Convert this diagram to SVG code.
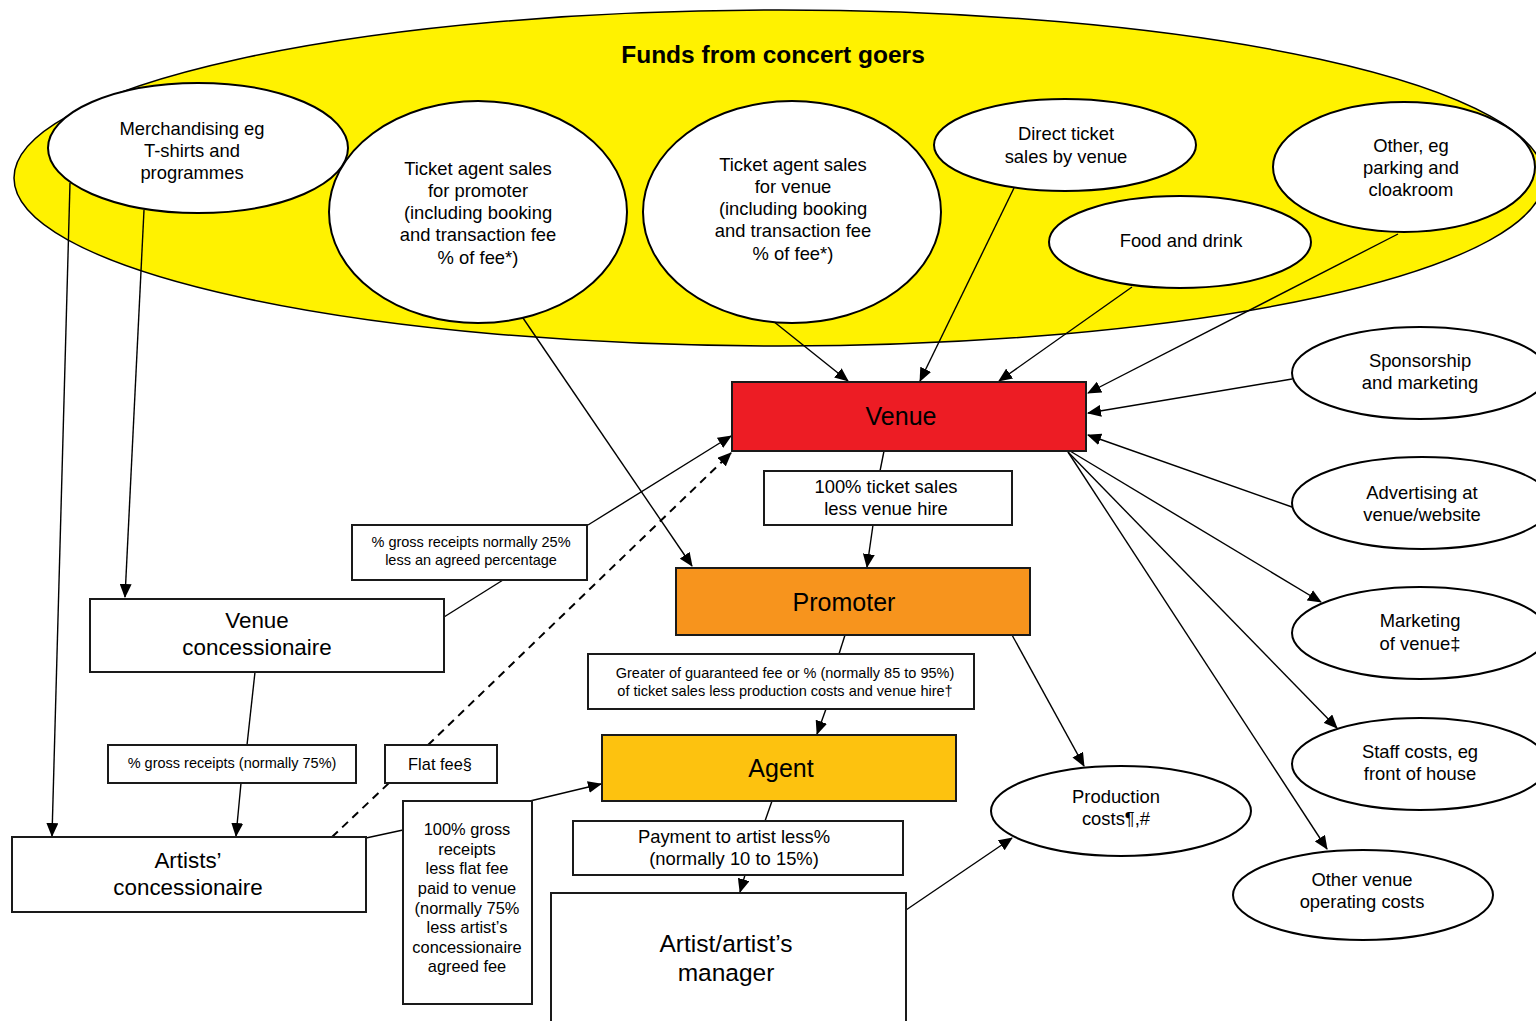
<svg xmlns="http://www.w3.org/2000/svg" width="1536" height="1021" viewBox="0 0 1536 1021">
<defs>
<marker id="ah" markerUnits="userSpaceOnUse" markerWidth="14" markerHeight="12" refX="13" refY="6" orient="auto">
<path d="M0,0 L14,6 L0,12 Z" fill="#000"/>
</marker>
<style>
text{font-family:"Liberation Sans",Arial,sans-serif;fill:#000;text-anchor:middle}
.el{fill:#fff;stroke:#000;stroke-width:2}
.bx{fill:#fff;stroke:#1a1a1a;stroke-width:2}
.c{stroke:#000;stroke-width:1.4;fill:none}
.a{marker-end:url(#ah)}
.d{stroke-dasharray:8,6;stroke-width:2}
.t17{font-size:18.4px}
.t13{font-size:14.5px}
.t15{font-size:16.4px}
.big{font-size:25px}
.mid{font-size:22.4px}
</style>
</defs>
<rect width="1536" height="1021" fill="#fff"/>

<g id="funds">
<ellipse cx="779" cy="178" rx="765" ry="168" fill="#FFF200" stroke="#000" stroke-width="1.5"/>
<text x="773" y="63" style="font-size:24.5px;font-weight:bold">Funds from concert goers</text>
</g>

<g id="connectors">
<line class="c a" x1="70" y1="183" x2="52" y2="836"/>
<line class="c a" x1="144" y1="210" x2="125" y2="597"/>
<line class="c a" x1="523" y1="318" x2="692" y2="566"/>
<line class="c a" x1="773" y1="321" x2="848" y2="381"/>
<line class="c a" x1="1014" y1="188" x2="920" y2="381"/>
<line class="c a" x1="1132" y1="287" x2="999" y2="381"/>
<line class="c a" x1="1398" y1="234" x2="1088" y2="393"/>
<line class="c a" x1="1292" y1="379" x2="1088" y2="413"/>
<line class="c a" x1="1292" y1="507" x2="1088" y2="435"/>
<line class="c a" x1="1070" y1="451" x2="1321" y2="602"/>
<line class="c a" x1="1068" y1="452" x2="1337" y2="728"/>
<line class="c a" x1="1068" y1="452" x2="1327" y2="849"/>
<line class="c a" x1="1012" y1="635" x2="1084" y2="766"/>
<line class="c a" x1="906" y1="910" x2="1012" y2="838"/>
<line class="c" x1="884" y1="451" x2="880" y2="471"/>
<line class="c a" x1="873" y1="525" x2="867" y2="567"/>
<line class="c" x1="845" y1="635" x2="839" y2="654"/>
<line class="c a" x1="826" y1="709" x2="817" y2="734"/>
<line class="c" x1="772" y1="801" x2="765" y2="821"/>
<line class="c a" x1="745" y1="875" x2="740" y2="892"/>
<line class="c" x1="444" y1="617" x2="503" y2="580"/>
<line class="c a" x1="588" y1="525" x2="731" y2="436"/>
<line class="c" x1="255" y1="672" x2="247" y2="745"/>
<line class="c a" x1="241" y1="783" x2="236" y2="836"/>
<line class="c d" x1="332" y1="837" x2="389" y2="783"/>
<line class="c a d" x1="428" y1="745" x2="731" y2="453"/>
<line class="c" x1="366" y1="838" x2="403" y2="830"/>
<line class="c a" x1="530" y1="801" x2="601" y2="784"/>
</g>

<g id="merch">
<ellipse class="el" cx="198" cy="148" rx="150" ry="65"/>
<text class="t17" x="192" y="135">Merchandising eg</text>
<text class="t17" x="192" y="157">T-shirts and</text>
<text class="t17" x="192" y="179">programmes</text>
</g>
<g id="ticket-promoter">
<ellipse class="el" cx="478" cy="212" rx="149" ry="111"/>
<text class="t17" x="478" y="175">Ticket agent sales</text>
<text class="t17" x="478" y="197">for promoter</text>
<text class="t17" x="478" y="219">(including booking</text>
<text class="t17" x="478" y="241">and transaction fee</text>
<text class="t17" x="478" y="264">% of fee*)</text>
</g>
<g id="ticket-venue">
<ellipse class="el" cx="792" cy="212" rx="149" ry="111"/>
<text class="t17" x="793" y="171">Ticket agent sales</text>
<text class="t17" x="793" y="193">for venue</text>
<text class="t17" x="793" y="215">(including booking</text>
<text class="t17" x="793" y="237">and transaction fee</text>
<text class="t17" x="793" y="260">% of fee*)</text>
</g>
<g id="direct">
<ellipse class="el" cx="1065" cy="145" rx="131" ry="46"/>
<text class="t17" x="1066" y="140">Direct ticket</text>
<text class="t17" x="1066" y="163">sales by venue</text>
</g>
<g id="food">
<ellipse class="el" cx="1180" cy="242" rx="131" ry="46"/>
<text class="t17" x="1181" y="247">Food and drink</text>
</g>
<g id="other">
<ellipse class="el" cx="1404" cy="167" rx="131" ry="65"/>
<text class="t17" x="1411" y="152">Other, eg</text>
<text class="t17" x="1411" y="174">parking and</text>
<text class="t17" x="1411" y="196">cloakroom</text>
</g>

<g id="venue">
<rect x="732" y="382" width="354" height="69" fill="#ED1C24" stroke="#1a1a1a" stroke-width="2"/>
<text class="big" x="901" y="425">Venue</text>
</g>
<g id="lbl-100ticket">
<rect class="bx" x="764" y="471" width="248" height="54"/>
<text class="t17" x="886" y="493">100% ticket sales</text>
<text class="t17" x="886" y="515">less venue hire</text>
</g>
<g id="promoter">
<rect x="676" y="568" width="354" height="67" fill="#F7941D" stroke="#1a1a1a" stroke-width="2"/>
<text class="big" x="844" y="611">Promoter</text>
</g>
<g id="lbl-greater">
<rect class="bx" x="588" y="654" width="386" height="55"/>
<text class="t13" x="785" y="678">Greater of guaranteed fee or % (normally 85 to 95%)</text>
<text class="t13" x="785" y="696">of ticket sales less production costs and venue hire†</text>
</g>
<g id="agent">
<rect x="602" y="735" width="354" height="66" fill="#FDC20F" stroke="#1a1a1a" stroke-width="2"/>
<text class="big" x="781" y="777">Agent</text>
</g>
<g id="lbl-payment">
<rect class="bx" x="573" y="821" width="330" height="54"/>
<text class="t17" x="734" y="843">Payment to artist less%</text>
<text class="t17" x="734" y="865">(normally 10 to 15%)</text>
</g>
<g id="artist">
<rect class="bx" x="551" y="893" width="355" height="140"/>
<text style="font-size:24.5px" x="726" y="952">Artist/artist’s</text>
<text style="font-size:24.5px" x="726" y="981">manager</text>
</g>
<g id="production">
<ellipse class="el" cx="1121" cy="811" rx="130" ry="45"/>
<text class="t17" x="1116" y="803">Production</text>
<text class="t17" x="1116" y="825">costs¶,#</text>
</g>
<g id="sponsorship">
<ellipse class="el" cx="1420" cy="373" rx="128" ry="46"/>
<text class="t17" x="1420" y="367">Sponsorship</text>
<text class="t17" x="1420" y="389">and marketing</text>
</g>
<g id="advertising">
<ellipse class="el" cx="1422" cy="503" rx="130" ry="46"/>
<text class="t17" x="1422" y="499">Advertising at</text>
<text class="t17" x="1422" y="521">venue/website</text>
</g>
<g id="marketing">
<ellipse class="el" cx="1420" cy="633" rx="128" ry="46"/>
<text class="t17" x="1420" y="627">Marketing</text>
<text class="t17" x="1420" y="650">of venue‡</text>
</g>
<g id="staff">
<ellipse class="el" cx="1420" cy="764" rx="128" ry="46"/>
<text class="t17" x="1420" y="758">Staff costs, eg</text>
<text class="t17" x="1420" y="780">front of house</text>
</g>
<g id="other-venue">
<ellipse class="el" cx="1363" cy="895" rx="130" ry="45"/>
<text class="t17" x="1362" y="886">Other venue</text>
<text class="t17" x="1362" y="908">operating costs</text>
</g>

<g id="venue-conc">
<rect class="bx" x="90" y="599" width="354" height="73"/>
<text class="mid" x="257" y="628">Venue</text>
<text class="mid" x="257" y="655">concessionaire</text>
</g>
<g id="artists-conc">
<rect class="bx" x="12" y="837" width="354" height="75"/>
<text class="mid" x="188" y="868">Artists’</text>
<text class="mid" x="188" y="895">concessionaire</text>
</g>
<g id="lbl-25">
<rect class="bx" x="352" y="525" width="235" height="55"/>
<text class="t13" x="471" y="547">% gross receipts normally 25%</text>
<text class="t13" x="471" y="565">less an agreed percentage</text>
</g>
<g id="lbl-75">
<rect class="bx" x="108" y="745" width="248" height="38"/>
<text class="t13" x="232" y="768">% gross receipts (normally 75%)</text>
</g>
<g id="lbl-flat">
<rect class="bx" x="385" y="745" width="112" height="38"/>
<text class="t15" x="440" y="770">Flat fee§</text>
</g>
<g id="lbl-100gross">
<rect class="bx" x="403" y="801" width="129" height="203"/>
<text class="t15" x="467" y="835">100% gross</text>
<text class="t15" x="467" y="855">receipts</text>
<text class="t15" x="467" y="874">less flat fee</text>
<text class="t15" x="467" y="894">paid to venue</text>
<text class="t15" x="467" y="914">(normally 75%</text>
<text class="t15" x="467" y="933">less artist’s</text>
<text class="t15" x="467" y="953">concessionaire</text>
<text class="t15" x="467" y="972">agreed fee</text>
</g>
</svg>
